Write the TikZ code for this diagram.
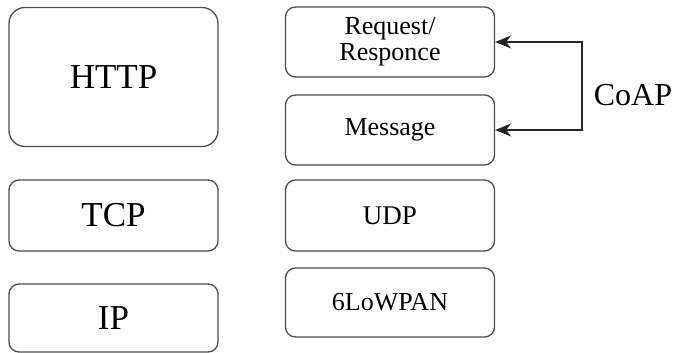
\documentclass[tikz,border=0pt]{standalone}
\usepackage{fontspec}
\setmainfont{Liberation Serif}
\usetikzlibrary{arrows.meta}
\begin{document}
\begin{tikzpicture}[x=1pt,y=-1pt,
	boite/.style={draw=black!70, line width=1.3pt, rounded corners=10pt, minimum width=209pt, inner sep=0pt, align=center},
	grand/.style={font=\fontsize{35}{38}\selectfont},
	petit/.style={font=\fontsize{26}{26}\selectfont},
	fleche/.style={{Stealth[length=16pt,width=13pt,inset=5pt]}-{Stealth[length=16pt,width=13pt,inset=5pt]}, line width=1.4pt, black!85}]
	\useasboundingbox (0,0) rectangle (673,353);
	% colonne gauche
	\node[boite,grand,minimum height=139pt,rounded corners=16pt] (http) at (113.5,77) {HTTP};
	\node[boite,grand,minimum height=71pt] (tcp) at (113.5,215.5) {TCP};
	\node[boite,grand,minimum height=68pt] (ip) at (113.5,318) {IP};
	% colonne droite
	\node[boite,petit,minimum height=70pt] (req) at (390,42) {Request/\\Responce};
	\node[boite,petit,minimum height=70pt] (msg) at (390,130) {Message};
	\node[boite,petit,minimum height=71pt,font=\fontsize{27}{27}\selectfont] (udp) at (390,215.5) {UDP};
	\node[boite,petit,minimum height=69pt] (lowpan) at (390,302.5) {6LoWPAN};
	% CoAP
	\draw[fleche] (req.east) -- ++(87,0) |- (msg.east);
	\node[font=\fontsize{32}{36}\selectfont] (coap) at (633,95) {CoAP};
\end{tikzpicture}
\end{document}
